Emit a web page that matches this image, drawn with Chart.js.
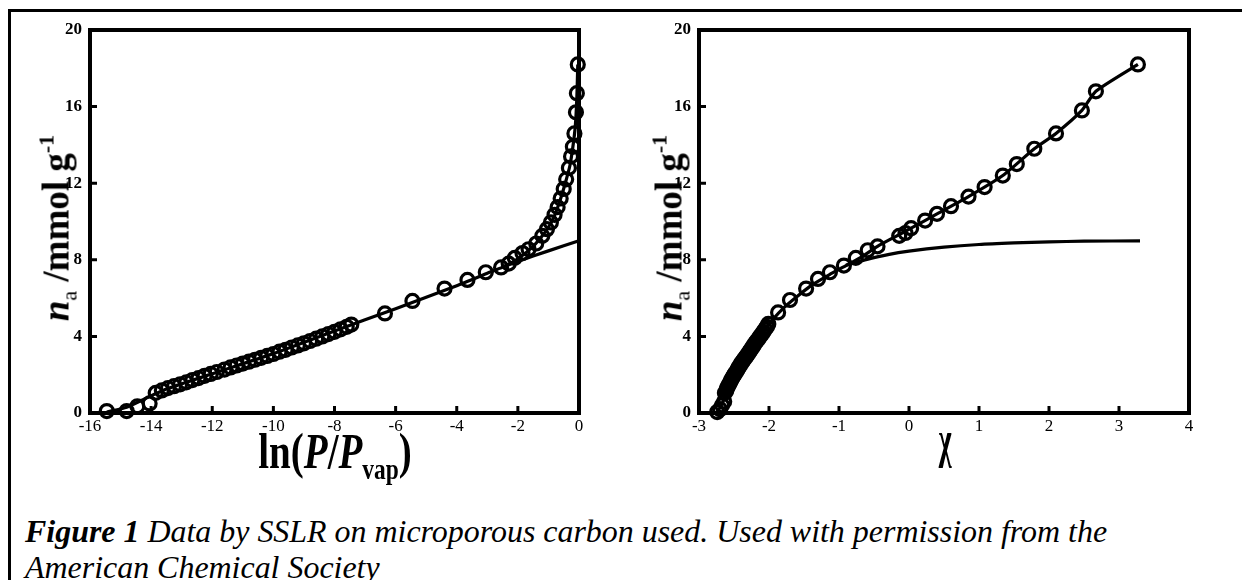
<!DOCTYPE html>
<html>
<head>
<meta charset="utf-8">
<script src="https://cdn.jsdelivr.net/npm/chart.js@4.4.1/dist/chart.umd.min.js"></script>
<style>
  body { margin: 0; width: 1242px; height: 580px; background: #fff; position: relative; overflow: hidden;
         font-family: "Liberation Serif", "Times New Roman", serif; color: #000; }
  canvas { position: absolute; top: 0; }
  #leftChart { left: 0; }
  #rightChart { left: 620px; }
  .frameTop { position: absolute; left: 8px; right: 0; top: 9px; height: 3px; background: #000; }
  .frameLeft { position: absolute; left: 8px; top: 9px; bottom: 0; width: 3px; background: #000; }
  .ytitle { position: absolute; white-space: nowrap; font-size: 37px; font-weight: bold; line-height: 1;
            transform: translate(-50%, -50%) rotate(-90deg); }
  .ytitle .sub { font-size: 22px; font-weight: normal; position: relative; top: 8px; }
  .ytitle sup { font-size: 22px; vertical-align: 0; position: relative; top: -15px; }
  .xtitle { position: absolute; white-space: nowrap; font-weight: bold; line-height: 1; top: 426px;
            transform: translateX(-50%) scaleX(0.78); }
  .xtitle .sub { font-size: 30px; position: relative; top: 11px; }
  .chi { position: absolute; white-space: nowrap; font-weight: bold; line-height: 1; top: 413px; font-size: 46px;
         transform: translateX(-50%) scale(0.6, 1.15); transform-origin: 50% 0; }
  .caption { position: absolute; left: 25px; white-space: nowrap; font-size: 31px; font-style: italic; line-height: 1;
             transform-origin: 0 0; transform: scaleX(1.03); }
</style>
</head>
<body>
<div class="frameTop"></div>
<div class="frameLeft"></div>
<canvas id="leftChart" width="620" height="480"></canvas>
<canvas id="rightChart" width="622" height="480"></canvas>

<div class="ytitle" style="left:56px; top:228px;"><i>n</i><span class="sub">a</span> /mmol g<sup>-1</sup></div>
<div class="ytitle" style="left:669px; top:228px;"><i>n</i><span class="sub">a</span> /mmol g<sup>-1</sup></div>
<div class="xtitle" style="left:335px; font-size:50px;">ln(<i>P</i>/<i>P</i><span class="sub">vap</span>)</div>
<div class="chi" style="left:945px;">χ</div>

<div class="caption" style="top:516px;"><b>Figure 1</b> Data by SSLR on microporous carbon used. Used with permission from the</div>
<div class="caption" style="top:552px;">American Chemical Society</div>

<script>
// shared y axis
const yTicks = [0, 4, 8, 12, 16, 20];

// left panel: n_a against ln(P/Pvap)
const lnTicks = [-16, -14, -12, -10, -8, -6, -4, -2, 0];
const lnData = [-15.45, -14.8, -14.45, -14.05, -13.85, -13.65, -13.45, -13.25, -13.05, -12.85, -12.65,
  -12.45, -12.25, -12.05, -11.85, -11.6, -11.4, -11.2, -11.0, -10.8, -10.6, -10.4, -10.2, -10.0, -9.8,
  -9.6, -9.4, -9.2, -9.0, -8.8, -8.6, -8.4, -8.2, -8.0, -7.8, -7.6, -7.45,
  -6.35, -5.45, -4.4, -3.65, -3.05, -2.55, -2.3, -2.1, -1.85, -1.65, -1.4, -1.2, -1.05, -0.92, -0.8,
  -0.7, -0.6, -0.5, -0.42, -0.33, -0.26, -0.2, -0.15, -0.1, -0.07, -0.04];
const naLeft = [0.1, 0.1, 0.35, 0.5, 1.05, 1.18, 1.3, 1.4, 1.5, 1.6, 1.72,
  1.82, 1.94, 2.04, 2.14, 2.27, 2.38, 2.48, 2.58, 2.68, 2.78, 2.88, 2.98, 3.08, 3.2,
  3.3, 3.42, 3.53, 3.64, 3.76, 3.88, 4.0, 4.12, 4.24, 4.37, 4.5, 4.62,
  5.2, 5.85, 6.5, 6.95, 7.35, 7.6, 7.8, 8.1, 8.35, 8.55, 8.85, 9.25, 9.6, 9.95, 10.35,
  10.75, 11.2, 11.7, 12.2, 12.8, 13.4, 13.9, 14.6, 15.7, 16.7, 18.2];
// model curve through the data and the micropore fit (left)
const lnModel = [-15.45, -14.8, -14.2, -13.5, -12, -10, -8, -6, -4, -3, -2.5, -2, -1.5, -1.2, -1.0,
  -0.8, -0.6, -0.45, -0.3, -0.2, -0.12, -0.07, -0.04];
const naModelLeft = [0.05, 0.3, 0.75, 1.25, 2.05, 3.1, 4.28, 5.45, 6.65, 7.3, 7.62, 8.05, 8.7, 9.25, 9.7,
  10.3, 11.2, 12.0, 12.9, 13.9, 15.0, 16.5, 18.2];
const lnFit = [-2.5, -1.5, -0.5, 0];
const naFitLeft = [7.62, 8.2, 8.73, 9.0];

// right panel: n_a against chi
const chiTicks = [-3, -2, -1, 0, 1, 2, 3, 4];
const chiData = [-2.74, -2.70, -2.67, -2.64, -2.63, -2.61, -2.6, -2.585, -2.57, -2.555, -2.54,
  -2.525, -2.505, -2.49, -2.47, -2.45, -2.435, -2.415, -2.4, -2.38, -2.36, -2.34, -2.32, -2.3, -2.28,
  -2.26, -2.24, -2.22, -2.2, -2.175, -2.15, -2.13, -2.1, -2.08, -2.055, -2.03, -2.01,
  -1.87, -1.70, -1.47, -1.3, -1.13, -0.93, -0.76, -0.59, -0.45, -0.14, -0.05, 0.03, 0.23, 0.4, 0.6,
  0.85, 1.08, 1.34, 1.54, 1.79, 2.1, 2.47, 2.67, 3.27];
const naRight = [0.05, 0.2, 0.4, 0.6, 1.05, 1.18, 1.3, 1.4, 1.5, 1.6, 1.72,
  1.82, 1.94, 2.04, 2.14, 2.27, 2.38, 2.48, 2.58, 2.68, 2.78, 2.88, 2.98, 3.08, 3.2,
  3.3, 3.42, 3.53, 3.64, 3.76, 3.88, 4.0, 4.12, 4.24, 4.37, 4.5, 4.65,
  5.25, 5.9, 6.5, 7.0, 7.35, 7.7, 8.1, 8.5, 8.7, 9.25, 9.4, 9.65, 10.05, 10.4, 10.8,
  11.3, 11.8, 12.4, 13.0, 13.8, 14.6, 15.8, 16.8, 18.2];
const chiModel = [-2.74, -2.68, -2.64, -2.6, -2.49, -2.3, -2.08, -1.8, -1.4, -1.1, -0.9, -0.7, -0.45,
  -0.2, 0.03, 0.4, 0.85, 1.34, 1.79, 2.1, 2.47, 2.67, 3.27];
const naModelRight = [0.05, 0.4, 0.75, 1.25, 2.05, 3.1, 4.28, 5.45, 6.65, 7.3, 7.7, 8.1, 8.7,
  9.2, 9.65, 10.4, 11.3, 12.4, 13.8, 14.6, 15.8, 16.8, 18.2];
const chiFit = [-0.9, -0.6, -0.3, 0, 0.5, 1, 1.5, 2, 2.5, 3.3];
const naFitRight = [7.72, 8.02, 8.27, 8.45, 8.66, 8.8, 8.88, 8.94, 8.97, 8.99];

const pairs = (xs, ys) => xs.map((x, i) => ({ x: x, y: ys[i] }));

// box round the plot area and inward tick marks
const framePlugin = {
  id: 'framePlugin',
  afterDraw(chart) {
    const { ctx, chartArea: a, scales } = chart;
    ctx.save();
    ctx.strokeStyle = '#000';
    ctx.lineWidth = 3;
    ctx.beginPath();
    scales.x.ticks.forEach(t => {
      const px = scales.x.getPixelForValue(t.value);
      ctx.moveTo(px, a.bottom);
      ctx.lineTo(px, a.bottom - 7);
    });
    scales.y.ticks.forEach(t => {
      const py = scales.y.getPixelForValue(t.value);
      ctx.moveTo(a.left, py);
      ctx.lineTo(a.left + 7, py);
    });
    ctx.stroke();
    ctx.lineWidth = 4;
    ctx.strokeRect(a.left, a.top, a.right - a.left, a.bottom - a.top);
    ctx.restore();
  }
};

function makeChart(id, xTicks, dataX, dataY, modelX, modelY, fitX, fitY, yWidth, padRight) {
  const ctx = document.getElementById(id).getContext('2d');
  return new Chart(ctx, {
    type: 'scatter',
    data: {
      datasets: [
        {
          data: pairs(dataX, dataY),
          showLine: false,
          pointStyle: 'circle',
          pointRadius: 6.5,
          pointBorderWidth: 3.2,
          pointBorderColor: '#000',
          pointBackgroundColor: 'rgba(0,0,0,0)',
          clip: false
        },
        {
          data: pairs(modelX, modelY),
          showLine: true,
          borderColor: '#000',
          borderWidth: 3.2,
          pointRadius: 0,
          tension: 0.2,
          clip: false
        },
        {
          data: pairs(fitX, fitY),
          showLine: true,
          borderColor: '#000',
          borderWidth: 3.2,
          pointRadius: 0,
          tension: 0.2,
          clip: false
        }
      ]
    },
    options: {
      responsive: false,
      animation: false,
      devicePixelRatio: 1,
      layout: { padding: { left: 0, right: padRight, top: 30, bottom: 0 } },
      plugins: { legend: { display: false }, tooltip: { enabled: false } },
      scales: {
        x: {
          type: 'linear',
          min: xTicks[0],
          max: xTicks[xTicks.length - 1],
          afterBuildTicks: s => { s.ticks = xTicks.map(v => ({ value: v })); },
          afterFit: s => { s.height = 67; },
          grid: { display: false, drawTicks: false },
          border: { display: false },
          ticks: {
            color: '#000',
            padding: 3,
            maxRotation: 0,
            font: { family: '"Liberation Serif", serif', size: 17 }
          }
        },
        y: {
          type: 'linear',
          min: yTicks[0],
          max: yTicks[yTicks.length - 1],
          afterBuildTicks: s => { s.ticks = yTicks.map(v => ({ value: v })); },
          afterFit: s => { s.width = yWidth; },
          grid: { display: false, drawTicks: false },
          border: { display: false },
          ticks: {
            color: '#000',
            padding: 8,
            font: { family: '"Liberation Serif", serif', size: 17, weight: 'bold' }
          }
        }
      }
    },
    plugins: [framePlugin]
  });
}

makeChart('leftChart', lnTicks, lnData, naLeft, lnModel, naModelLeft, lnFit, naFitLeft, 90, 41);
makeChart('rightChart', chiTicks, chiData, naRight, chiModel, naModelRight, chiFit, naFitRight, 79, 53);
</script>
</body>
</html>
